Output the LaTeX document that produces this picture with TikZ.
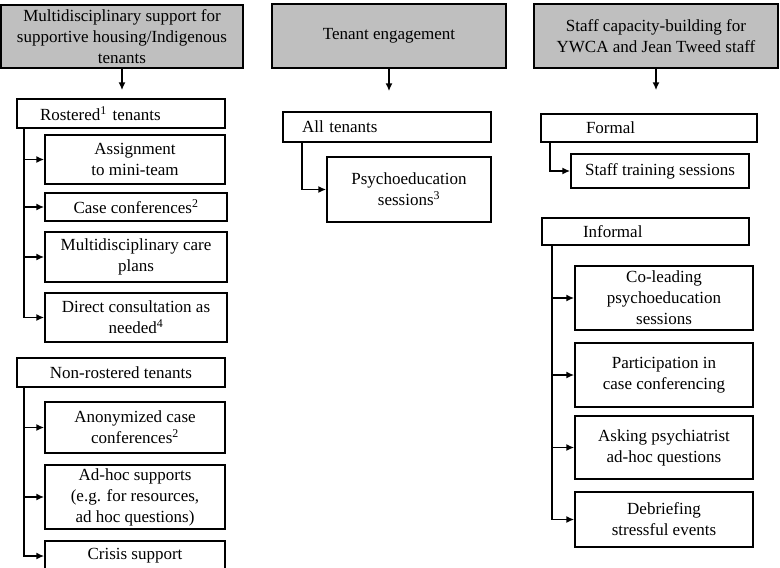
\documentclass[tikz,border=0pt]{standalone}
\usepackage{fontspec}
\setmainfont{Liberation Serif}
\usetikzlibrary{arrows.meta}
\definecolor{hdgray}{RGB}{191,191,191}
\tikzset{
  box/.style={draw, line width=1.5pt, inner sep=0pt, align=center, font=\fontsize{17}{21}\selectfont},
  head/.style={box, fill=hdgray},
  arr/.style={line width=1.6pt, -{Latex[length=8pt,width=7pt]}}
}
\begin{document}
\begin{tikzpicture}[x=1pt,y=-1pt]
\useasboundingbox (0,0) rectangle (780,568);
% headers
\node[head, minimum width=242pt, minimum height=63pt] (h1) at (122,36.5) {Multidisciplinary support for\\supportive housing/Indigenous\\tenants};
\node[head, minimum width=234pt, minimum height=64pt] (h2) at (389,36) {Tenant engagement};
\node[head, minimum width=244pt, minimum height=64pt] (h3) at (656,36) {Staff capacity-building for\\YWCA and Jean Tweed staff};
% column 1
\node[box, minimum width=208pt, minimum height=29pt, inner xsep=23pt, text width=162pt, align=left] (ros) at (121,113.5) {Rostered\textsuperscript{1} tenants};
\node[box, minimum width=180pt, minimum height=49pt] (a1) at (135,159.5) {Assignment\\to mini-team};
\node[box, minimum width=182pt, minimum height=28pt] (a2) at (136,207) {Case conferences\textsuperscript{2}};
\node[box, minimum width=182pt, minimum height=50pt] (a3) at (136,257) {Multidisciplinary care\\plans};
\node[box, minimum width=182pt, minimum height=49pt] (a4) at (136,317.5) {Direct consultation as\\needed\textsuperscript{4}};
\node[box, minimum width=208pt, minimum height=29pt] (non) at (121,372.5) {Non-rostered tenants};
\node[box, minimum width=180pt, minimum height=51pt] (b1) at (135,427.5) {Anonymized case\\conferences\textsuperscript{2}};
\node[box, minimum width=180pt, minimum height=64pt] (b2) at (135,497) {Ad-hoc supports\\(e.g. for resources,\\ad hoc questions)};
\node[box, minimum width=180pt, minimum height=30pt] (b3) at (135,556) {Crisis support};
% column 2
\node[box, minimum width=208pt, minimum height=30pt, inner xsep=19pt, text width=170pt, align=left] (all) at (387,127) {All tenants};
\node[box, minimum width=164pt, minimum height=65pt] (psy) at (409,189.5) {Psychoeducation\\sessions\textsuperscript{3}};
% column 3
\node[box, minimum width=216pt, minimum height=28pt, inner xsep=45pt, text width=126pt, align=left] (formal) at (649,128) {Formal};
\node[box, minimum width=178pt, minimum height=34pt] (stt) at (660,171) {Staff training sessions};
\node[box, minimum width=207pt, minimum height=27pt, inner xsep=41pt, text width=125pt, align=left] (inf) at (645.5,231.5) {Informal};
\node[box, minimum width=178pt, minimum height=64pt] (c1) at (664,298) {Co-leading\\psychoeducation\\sessions};
\node[box, minimum width=178pt, minimum height=64pt] (c2) at (664,375) {Participation in\\case conferencing};
\node[box, minimum width=178pt, minimum height=63pt] (c3) at (664,447.5) {Asking psychiatrist\\ad-hoc questions};
\node[box, minimum width=178pt, minimum height=55pt] (c4) at (664,519.5) {Debriefing\\stressful events};
% header arrows
\draw[arr] (h1.south) -- ([yshift=8pt]h1.south |- ros.north);
\draw[arr] (h2.south) -- ([yshift=20pt]h2.south |- all.north);
\draw[arr] (h3.south) -- ([yshift=23pt]h3.south |- formal.north);
% branches column 1
\foreach \t in {a1,a2,a3,a4}
  \draw[arr] ([xshift=8pt]ros.south west) |- (\t.west);
\foreach \t in {b1,b2,b3}
  \draw[arr] ([xshift=8pt]non.south west) |- (\t.west);
% column 2
\draw[arr] ([xshift=20pt]all.south west) |- (psy.west);
% column 3
\draw[arr] ([xshift=10pt]formal.south west) |- (stt.west);
\foreach \t in {c1,c2,c3,c4}
  \draw[arr] ([xshift=11pt]inf.south west) |- (\t.west);
\end{tikzpicture}
\end{document}
